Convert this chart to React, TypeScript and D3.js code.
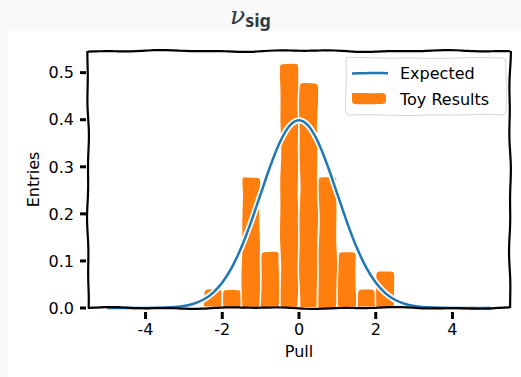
import React from "react";
import * as d3 from "d3";

const binEdges = [-2.5, -2.0, -1.5, -1.0, -0.5, 0.0, 0.5, 1.0, 1.5, 2.0, 2.5];
const binHeights = [0.04, 0.04, 0.28, 0.12, 0.52, 0.48, 0.28, 0.12, 0.04, 0.08];
const expectedX = [-5, -4.5, -4, -3.5, -3, -2.75, -2.5, -2.25, -2, -1.75, -1.5, -1.25, -1, -0.75, -0.5, -0.25, 0, 0.25, 0.5, 0.75, 1, 1.25, 1.5, 1.75, 2, 2.25, 2.5, 2.75, 3, 3.5, 4, 4.5, 5];
const expectedY = [0.0, 0.0, 0.0001, 0.0009, 0.0044, 0.0091, 0.0175, 0.0317, 0.054, 0.0863, 0.1295, 0.1826, 0.242, 0.3011, 0.3521, 0.3867, 0.3989, 0.3867, 0.3521, 0.3011, 0.242, 0.1826, 0.1295, 0.0863, 0.054, 0.0317, 0.0175, 0.0091, 0.0044, 0.0009, 0.0001, 0.0, 0.0];
const xTicks = [-4, -2, 0, 2, 4];
const yTicks = [0.0, 0.1, 0.2, 0.3, 0.4, 0.5];
const legendLabels = ["Expected", "Toy Results"];

const BLUE = "#1f77b4";
const ORANGE = "#ff7f0e";
const FONT = "DejaVu Sans, sans-serif";

// deterministic hand-drawn wobble
function wobble(pts: [number, number][], amp: number, seed: number): string {
  const out: [number, number][] = [];
  for (let i = 0; i < pts.length - 1; i++) {
    const [x0, y0] = pts[i];
    const [x1, y1] = pts[i + 1];
    const len = Math.hypot(x1 - x0, y1 - y0);
    const n = Math.max(2, Math.round(len / 6));
    const nx = -(y1 - y0) / (len || 1);
    const ny = (x1 - x0) / (len || 1);
    for (let k = 0; k <= n; k++) {
      if (k === 0 && i > 0) continue;
      const t = k / n;
      const s = i * 97 + k * 6;
      const off = amp * (0.6 * Math.sin(s * 0.045 + seed) + 0.4 * Math.sin(s * 0.11 + seed * 2.3));
      out.push([x0 + (x1 - x0) * t + nx * off, y0 + (y1 - y0) * t + ny * off]);
    }
  }
  return d3.line().curve(d3.curveBasis)(out) || "";
}

export default function App() {
  const W = 521;
  const H = 377;
  const x = d3.scaleLinear().domain([-5.5, 5.5]).range([88, 510]);
  const y = d3.scaleLinear().domain([0, 0.546]).range([308, 51]);

  const line = d3
    .line<number>()
    .x((_, i) => x(expectedX[i]))
    .y((d) => y(d))
    .curve(d3.curveMonotoneX);
  const linePath = line(expectedY) || "";

  const [x0, x1] = x.range();
  const [yb, yt] = y.range();

  return (
    <svg width={W} height={H} style={{ position: "absolute", left: 0, top: 0 }}>
      <rect x={0} y={0} width={W} height={H} fill="#f9f9f9" />
      <rect x={8} y={31} width={W - 8} height={H - 31} fill="#ffffff" />

      {/* title */}
      <text x={230} y={24} fontFamily="DejaVu Serif, serif" fontStyle="italic" fontSize={25} fill="#2d3b45">
        ν
        <tspan fontFamily="Noto Sans, sans-serif" fontStyle="normal" fontWeight="bold" fontSize={18} dy={3}>
          sig
        </tspan>
      </text>

      {/* bars */}
      {binHeights.map((h, i) => {
        const bx0 = x(binEdges[i]);
        const bx1 = x(binEdges[i + 1]);
        const by = y(h);
        const d = wobble(
          [
            [bx0, yb],
            [bx0, by],
            [bx1, by],
            [bx1, yb],
            [bx0, yb],
          ],
          0.8,
          i * 1.7
        );
        return <path key={i} d={d} fill={ORANGE} stroke="#ffffff" strokeWidth={1.5} />;
      })}

      {/* expected line */}
      <path d={linePath} fill="none" stroke="#ffffff" strokeWidth={6} strokeLinejoin="round" />
      <path d={linePath} fill="none" stroke={BLUE} strokeWidth={2.5} strokeLinejoin="round" />

      {/* spines */}
      <path d={wobble([[x0, yb], [x0, yt]], 1.0, 0.5)} fill="none" stroke="#000" strokeWidth={2.2} />
      <path d={wobble([[x1, yb], [x1, yt]], 1.0, 2.1)} fill="none" stroke="#000" strokeWidth={2.2} />
      <path d={wobble([[x0, yt], [x1, yt]], 1.0, 1.3)} fill="none" stroke="#000" strokeWidth={2.2} />
      <path d={wobble([[x0, yb], [x1, yb]], 1.0, 3.7)} fill="none" stroke="#000" strokeWidth={2.2} />

      {/* y ticks */}
      {yTicks.map((t) => (
        <g key={"y" + t}>
          <line x1={x0 - 8} x2={x0 - 2} y1={y(t)} y2={y(t)} stroke="#000" strokeWidth={3} />
          <text x={x0 - 14} y={y(t)} dy="0.36em" textAnchor="end" fontFamily={FONT} fontSize={16} fill="#000">
            {t.toFixed(1)}
          </text>
        </g>
      ))}

      {/* x ticks */}
      {xTicks.map((t) => (
        <g key={"x" + t}>
          <line x1={x(t)} x2={x(t)} y1={yb + 4} y2={yb + 11} stroke="#000" strokeWidth={3} />
          <text x={x(t)} y={yb + 27} textAnchor="middle" fontFamily={FONT} fontSize={16} fill="#000">
            {t === 0 ? "0" : t < 0 ? "-" + Math.abs(t) : String(t)}
          </text>
        </g>
      ))}

      {/* axis labels */}
      <text x={(x0 + x1) / 2} y={357} textAnchor="middle" fontFamily={FONT} fontSize={16} fill="#000">
        Pull
      </text>
      <text
        transform={`translate(39,${(yb + yt) / 2}) rotate(-90)`}
        textAnchor="middle"
        fontFamily={FONT}
        fontSize={16}
        fill="#000"
      >
        Entries
      </text>

      {/* legend */}
      <path
        d={wobble([[346, 58], [506, 58], [506, 115], [346, 115], [346, 58]], 0.6, 4.2)}
        fill="#ffffff"
        fillOpacity={0.85}
        stroke="#d6d6d6"
        strokeWidth={1}
      />
      <path d={wobble([[352, 73], [388, 73]], 0.5, 1)} fill="none" stroke={BLUE} strokeWidth={2.5} />
      <path
        d={wobble([[352, 93], [386, 93], [386, 104], [352, 104], [352, 93]], 0.5, 2)}
        fill={ORANGE}
        stroke="none"
      />
      <text x={400} y={79} fontFamily={FONT} fontSize={16} fill="#000">
        {legendLabels[0]}
      </text>
      <text x={400} y={105} fontFamily={FONT} fontSize={16} fill="#000">
        {legendLabels[1]}
      </text>
    </svg>
  );
}
